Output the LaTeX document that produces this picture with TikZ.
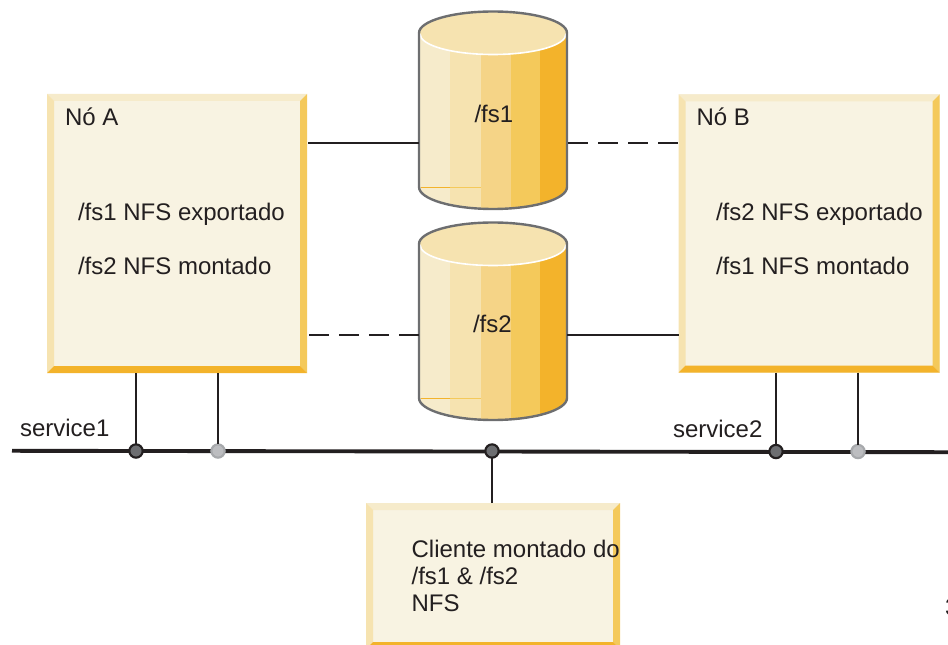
\documentclass[tikz,border=0pt]{standalone}
\usepackage{fontspec}
\setmainfont{Liberation Sans}
\usetikzlibrary{calc}
\definecolor{ink}{HTML}{231F20}
\definecolor{bevA}{HTML}{F6EBCB}
\definecolor{bevB}{HTML}{F6E3B0}
\definecolor{bevC}{HTML}{F5D487}
\definecolor{bevD}{HTML}{F4C95B}
\definecolor{bevE}{HTML}{F3B32B}
\definecolor{boxfill}{HTML}{F8F3E2}
\definecolor{cylline}{HTML}{6D6E70}
\definecolor{jdark}{HTML}{6D6E71}
\definecolor{jlight}{HTML}{BCBDC0}
\definecolor{jlightb}{HTML}{A7A9AC}
\tikzset{
  panel/.style={rectangle,fill=boxfill,draw=none,inner sep=0pt,outer sep=0pt},
  cylbox/.style={rectangle,draw=none,inner sep=0pt,outer sep=0pt,minimum width=111pt,minimum height=148.5pt},
  txt/.style={anchor=base west,inner sep=0pt,outer sep=0pt,text=ink,font=\fontsize{18}{20.25}\selectfont},
  wire/.style={draw=ink,line width=1.5pt},
  dashwire/.style={draw=ink,line width=1.5pt,dash pattern=on 15pt off 7.5pt},
  busline/.style={draw=ink,line width=2.9pt},
  jd/.style={circle,fill=jdark,draw=ink,line width=1.6pt,inner sep=0pt,outer sep=0pt,minimum size=10pt},
  jl/.style={circle,fill=jlight,draw=jlightb,line width=1.6pt,inner sep=0pt,outer sep=0pt,minimum size=10pt},
  cylinder body/.pic={
    \begin{scope}
      \clip (-74,0) -- (-74,154) .. controls (-74,166.15) and (-40.9,176) .. (0,176)
        .. controls (40.9,176) and (74,166.15) .. (74,154) -- (74,0) -- cycle;
      \fill[bevA] (-74,-2) rectangle (-43,180);
      \fill[bevB] (-43,-2) rectangle (-12,180);
      \fill[bevC] (-12,-2) rectangle (18,180);
      \fill[bevD] (18,-2) rectangle (47,180);
      \fill[bevE] (47,-2) rectangle (74,180);
      \draw[bevE,line width=.5pt] (-72,154.5) -- (-43,154.5);
      \draw[bevD,line width=.4pt] (-43,154.5) -- (-12,154.5);
    \end{scope}
    \fill[bevB] (-74,0) .. controls (-74,-11.9) and (-40.9,-21.5) .. (0,-21.5)
       .. controls (40.9,-21.5) and (74,-11.9) .. (74,0)
       .. controls (74,11.9) and (40.9,21.5) .. (0,21.5)
       .. controls (-40.9,21.5) and (-74,11.9) .. (-74,0) -- cycle;
    \draw[white,line width=1.2pt] (-73,1) .. controls (-73,12.4) and (-40.9,21.5) .. (0,21.5)
       .. controls (40.9,21.5) and (73,12.4) .. (73,1);
    \draw[cylline,line width=1.8pt] (-74,0) -- (-74,154) .. controls (-74,166.15) and (-40.9,176) .. (0,176)
        .. controls (40.9,176) and (74,166.15) .. (74,154) -- (74,0)
        .. controls (74,-11.9) and (40.9,-21.5) .. (0,-21.5)
        .. controls (-40.9,-21.5) and (-74,-11.9) .. (-74,0) -- cycle;
  }
}
\newcommand{\bevelbox}[5]{%
  \node[panel,minimum width=#4*0.75pt,minimum height=#5*0.75pt] (#1) at (#2,#3) {};
  \fill[bevA] (#1.north west) -- (#1.north east) -- ($(#1.north east)+(-7,7)$) -- ($(#1.north west)+(7,7)$) -- cycle;
  \fill[bevB] (#1.north west) -- (#1.south west) -- ($(#1.south west)+(7,-7)$) -- ($(#1.north west)+(7,7)$) -- cycle;
  \fill[bevD] (#1.north east) -- (#1.south east) -- ($(#1.south east)+(-7,-7)$) -- ($(#1.north east)+(-7,7)$) -- cycle;
  \fill[bevE] (#1.south west) -- (#1.south east) -- ($(#1.south east)+(-7,-7)$) -- ($(#1.south west)+(7,-7)$) -- cycle;
}
\begin{document}
\begin{tikzpicture}[x=0.75pt,y=-0.75pt]
\useasboundingbox (0,0) rectangle (948,645);
\clip (0,0) rectangle (948,645);
\bevelbox{nodeA}{177}{233.5}{260}{279}
\bevelbox{nodeB}{809}{233.5}{261}{278}
\bevelbox{client}{493}{576}{254}{146}
% cylinders
\pic at (493,33) {cylinder body};
\pic at (493,244) {cylinder body};
\node[cylbox] (cylA) at (493,110.5) {};
\node[cylbox] (cylB) at (493,321.5) {};
% links
\draw[wire] (nodeA.east |- 0,143) ++(1,0) -- (cylA.west |- 0,143);
\draw[dashwire] (cylA.east |- 0,143) ++(1,0) -- (nodeB.west |- 0,143);
\draw[dashwire] (nodeA.east |- 0,335) ++(2,0) -- (cylB.west |- 0,335);
\draw[wire] (cylB.east |- 0,335) -- (nodeB.west |- 0,335);
% bus
\coordinate (busL) at (12,450.8);
\coordinate (busR) at (948,452.2);
\draw[busline] (busL) -- (busR);
\node[jd] (j1) at (136,451) {};
\node[jl] (j2) at (218,451) {};
\node[jd] (j3) at (492,451) {};
\node[jd] (j4) at (776,451.5) {};
\node[jl] (j5) at (858,451.5) {};
\draw[wire] (nodeA.south -| j1) -- (j1);
\draw[wire] (nodeA.south -| j2) -- (j2);
\draw[wire] (client.north -| j3) -- (j3);
\draw[wire] (nodeB.south -| j4) -- (j4);
\draw[wire] (nodeB.south -| j5) -- (j5);
% text
\node[txt] (tA) at (65,125.8) {Nó A};
\node[txt] (tA1) at (78,220) {/fs1 NFS exportado};
\node[txt] (tA2) at (78,274) {/fs2 NFS montado};
\node[txt] (tB) at (696.6,125.8) {Nó B};
\node[txt] (tB1) at (716,220) {/fs2 NFS exportado};
\node[txt] (tB2) at (716,274) {/fs1 NFS montado};
\node[txt] (tF1) at (474.5,122.8) {/fs1};
\node[txt] (tF2) at (473,332) {/fs2};
\node[txt] (tS1) at (20,436) {service1};
\node[txt] (tS2) at (673,437) {service2};
\node[txt,anchor=north west,align=left] (tC) at (411.6,540.5) {Cliente montado do\\/fs1 \& /fs2\\NFS};
\node[txt] (tX) at (945,615) {3};
\end{tikzpicture}
\end{document}
